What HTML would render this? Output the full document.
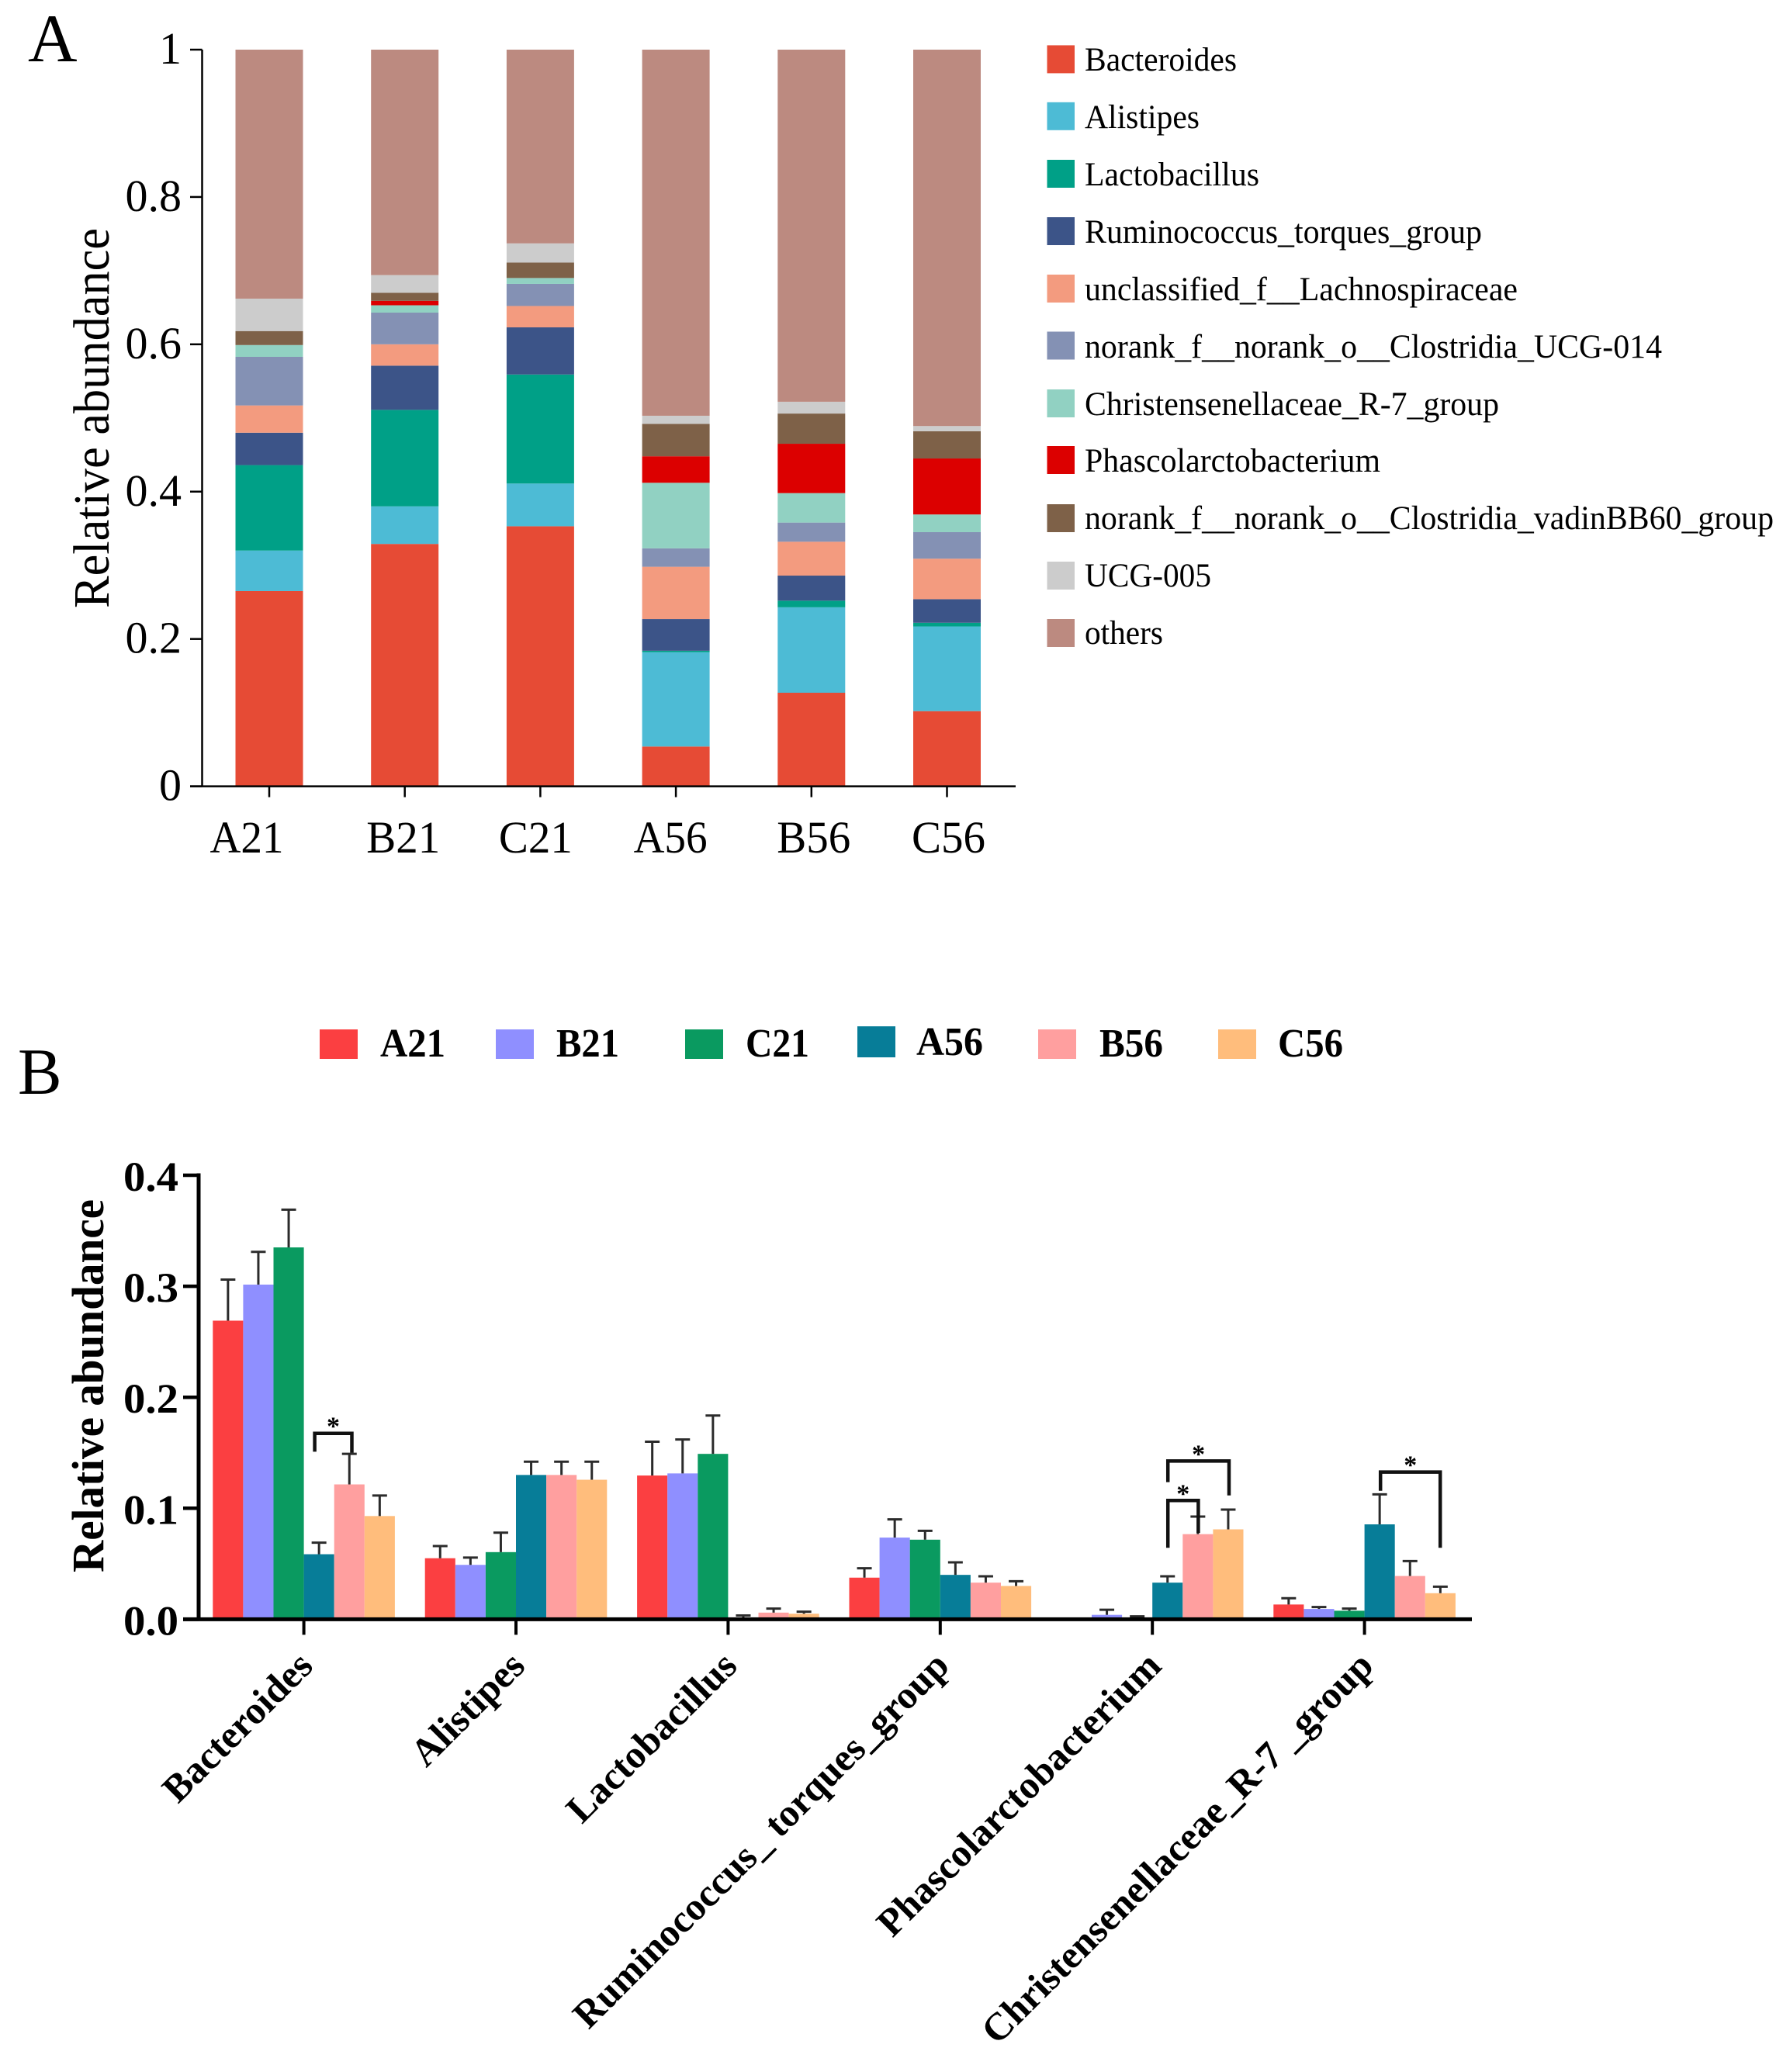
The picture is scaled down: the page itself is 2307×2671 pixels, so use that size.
<!DOCTYPE html>
<html lang="en">
<head>
<meta charset="utf-8">
<title>Relative abundance of gut microbiota genera</title>
<style>
html,body{margin:0;padding:0;background:#fff;}
svg{display:block;font-family:"Liberation Serif","Times New Roman",serif;}
</style>
</head>
<body>
<svg id="figure" xmlns="http://www.w3.org/2000/svg" width="2307" height="2671" viewBox="0 0 2307 2671">
  <rect x="0" y="0" width="2307" height="2671" fill="#ffffff"/>
  <text x="36" y="79" font-size="88" fill="#000">A</text>
  <text x="23" y="1410" font-size="85" fill="#000">B</text>

  <g id="chart-a"></g>
  <text transform="translate(140 539) rotate(-90)" text-anchor="middle" font-size="66" textLength="490" lengthAdjust="spacingAndGlyphs" fill="#000">Relative abundance</text>

  <g font-size="43" fill="#000">
    <g><rect x="1349.5" y="58.4" width="35.5" height="36" fill="#E64B35"/><text x="1398" y="91" textLength="196" lengthAdjust="spacingAndGlyphs">Bacteroides</text></g>
    <g><rect x="1349.5" y="131.8" width="35.5" height="36" fill="#4DBBD5"/><text x="1398" y="165" textLength="148" lengthAdjust="spacingAndGlyphs">Alistipes</text></g>
    <g><rect x="1349.5" y="206" width="35.5" height="36" fill="#00A087"/><text x="1398" y="239" textLength="225" lengthAdjust="spacingAndGlyphs">Lactobacillus</text></g>
    <g><rect x="1349.5" y="280" width="35.5" height="36" fill="#3C5488"/><text x="1398" y="313" textLength="512" lengthAdjust="spacingAndGlyphs">Ruminococcus_torques_group</text></g>
    <g><rect x="1349.5" y="354" width="35.5" height="36" fill="#F39B7F"/><text x="1398" y="387" textLength="558" lengthAdjust="spacingAndGlyphs">unclassified_f__Lachnospiraceae</text></g>
    <g><rect x="1349.5" y="427.5" width="35.5" height="36" fill="#8491B4"/><text x="1398" y="461" textLength="744" lengthAdjust="spacingAndGlyphs">norank_f__norank_o__Clostridia_UCG-014</text></g>
    <g><rect x="1349.5" y="502" width="35.5" height="36" fill="#91D1C2"/><text x="1398" y="535" textLength="534" lengthAdjust="spacingAndGlyphs">Christensenellaceae_R-7_group</text></g>
    <g><rect x="1349.5" y="575" width="35.5" height="36" fill="#DC0000"/><text x="1398" y="608" textLength="381" lengthAdjust="spacingAndGlyphs">Phascolarctobacterium</text></g>
    <g><rect x="1349.5" y="650" width="35.5" height="36" fill="#7E6148"/><text x="1398" y="682" textLength="888" lengthAdjust="spacingAndGlyphs">norank_f__norank_o__Clostridia_vadinBB60_group</text></g>
    <g><rect x="1349.5" y="724" width="35.5" height="36" fill="#CCCCCC"/><text x="1398" y="756" textLength="163" lengthAdjust="spacingAndGlyphs">UCG-005</text></g>
    <g><rect x="1349.5" y="798" width="35.5" height="36" fill="#BC8A80"/><text x="1398" y="830" textLength="101" lengthAdjust="spacingAndGlyphs">others</text></g>
  </g>

  <g font-size="52" font-weight="700" fill="#000">
    <g><rect x="412" y="1327" width="49" height="38" fill="#FB3F41"/><text x="490" y="1362" textLength="84" lengthAdjust="spacingAndGlyphs">A21</text></g>
    <g><rect x="639" y="1327" width="49" height="38" fill="#8F8FFF"/><text x="717" y="1362" textLength="81" lengthAdjust="spacingAndGlyphs">B21</text></g>
    <g><rect x="883" y="1327" width="49" height="38" fill="#0A9A60"/><text x="961" y="1362" textLength="82" lengthAdjust="spacingAndGlyphs">C21</text></g>
    <g><rect x="1105" y="1323" width="49" height="40" fill="#077D98"/><text x="1181" y="1360" textLength="86" lengthAdjust="spacingAndGlyphs">A56</text></g>
    <g><rect x="1338" y="1327" width="49" height="38" fill="#FF9F9F"/><text x="1417" y="1362" textLength="82" lengthAdjust="spacingAndGlyphs">B56</text></g>
    <g><rect x="1570" y="1327" width="49" height="38" fill="#FFBD7C"/><text x="1647" y="1362" textLength="84" lengthAdjust="spacingAndGlyphs">C56</text></g>
  </g>

  <g id="chart-b"></g>
  <text transform="translate(133 1786.5) rotate(-90)" text-anchor="middle" font-size="58" font-weight="700" textLength="481" lengthAdjust="spacingAndGlyphs" fill="#000">Relative abundance</text>
</svg>

<script>
// ---- Panel A data ----
const stackCategories = ["A21", "B21", "C21", "A56", "B56", "C56"];
const bacteroides = [0.265, 0.329, 0.353, 0.054, 0.127, 0.102];
const alistipes = [0.055, 0.051, 0.058, 0.128, 0.116, 0.115];
const lactobacillus = [0.116, 0.131, 0.148, 0.002, 0.009, 0.005];
const ruminococcus = [0.044, 0.060, 0.064, 0.043, 0.034, 0.032];
const lachnospiraceae = [0.037, 0.029, 0.029, 0.071, 0.046, 0.055];
const clostridiaUcg014 = [0.066, 0.043, 0.030, 0.025, 0.026, 0.036];
const christensenellaceae = [0.016, 0.010, 0.008, 0.089, 0.040, 0.024];
const phascolarctobacterium = [0, 0.006, 0, 0.036, 0.067, 0.076];
const clostridiaVadin = [0.019, 0.011, 0.021, 0.044, 0.041, 0.037];
const ucg005 = [0.044, 0.024, 0.026, 0.011, 0.016, 0.007];
const others = [0.338, 0.306, 0.263, 0.497, 0.478, 0.511];
const stackTicks = [0, 0.2, 0.4, 0.6, 0.8, 1];
const stackTickLabels = ["0", "0.2", "0.4", "0.6", "0.8", "1"];

// ---- Panel B data ----
const groupGenera = ["Bacteroides", "Alistipes", "Lactobacillus", "Ruminococcus_ torques_group", "Phascolarctobacterium", "Christensenellaceae_R-7 _group"];
const groupNames = ["A21", "B21", "C21", "A56", "B56", "C56"];
const meanA21 = [0.269, 0.055, 0.1295, 0.0375, 0, 0.0133];
const meanB21 = [0.3015, 0.049, 0.1314, 0.0736, 0.004, 0.0093];
const meanC21 = [0.335, 0.0605, 0.149, 0.0717, 0.0005, 0.0077];
const meanA56 = [0.0586, 0.130, 0.0015, 0.040, 0.033, 0.0855];
const meanB56 = [0.1215, 0.130, 0.006, 0.033, 0.0767, 0.039];
const meanC56 = [0.093, 0.1257, 0.005, 0.030, 0.081, 0.0235];
const errA21 = [0.037, 0.011, 0.0305, 0.0085, 0, 0.0057];
const errB21 = [0.0295, 0.0066, 0.0306, 0.0164, 0.0046, 0.0017];
const errC21 = [0.034, 0.0175, 0.0345, 0.008, 0.0021, 0.0019];
const errA56 = [0.0104, 0.012, 0.0019, 0.0113, 0.0057, 0.027];
const errB56 = [0.0275, 0.012, 0.0036, 0.0057, 0.0158, 0.0134];
const errC56 = [0.0185, 0.0163, 0.0018, 0.0043, 0.0178, 0.0059];
const groupTicks = [0, 0.1, 0.2, 0.3, 0.4];
const groupTickLabels = ["0.0", "0.1", "0.2", "0.3", "0.4"];

// significance brackets: genus index, bar slots spanned, and heights in axis units
const bracketGenus = [0, 4, 4, 5];
const bracketFrom = [2.858, 3.012, 3.012, 3.027];
const bracketTo = [4.083, 5.027, 4.014, 4.996];
const bracketTop = [0.1675, 0.1426, 0.107, 0.1326];
const bracketLeftEnd = [0.151, 0.1235, 0.0644, 0.1158];
const bracketRightEnd = [0.150, 0.1116, 0.0778, 0.0644];

// ---- Styling / layout (not data) ----
const stackColors = ["#E64B35", "#4DBBD5", "#00A087", "#3C5488", "#F39B7F", "#8491B4", "#91D1C2", "#DC0000", "#7E6148", "#CCCCCC", "#BC8A80"];
const stackKeys = ["bacteroides", "alistipes", "lactobacillus", "ruminococcus", "lachnospiraceae", "clostridia-ucg-014", "christensenellaceae", "phascolarctobacterium", "clostridia-vadinbb60", "ucg-005", "others"];
const stackLabelShift = [-29, -2, -6, -7, 3, 2];
const groupColors = ["#FB3F41", "#8F8FFF", "#0A9A60", "#077D98", "#FF9F9F", "#FFBD7C"];

const stackSeries = [bacteroides, alistipes, lactobacillus, ruminococcus, lachnospiraceae, clostridiaUcg014, christensenellaceae, phascolarctobacterium, clostridiaVadin, ucg005, others];
const groupMeans = [meanA21, meanB21, meanC21, meanA56, meanB56, meanC56];
const groupErrors = [errA21, errB21, errC21, errA56, errB56, errC56];

const NS = "http://www.w3.org/2000/svg";
function make(parent, tag, attrs, text) {
  const el = document.createElementNS(NS, tag);
  for (const k in attrs) el.setAttribute(k, attrs[k]);
  if (text !== undefined) el.textContent = text;
  parent.appendChild(el);
  return el;
}

// ---- Panel A axes ----
const yA = v => 1013.6 - v * 949.6;
const xA = i => 347 + i * 174.7;
const barWidthA = 87;
const chartA = document.getElementById("chart-a");

stackCategories.forEach((cat, i) => {
  let acc = 0;
  stackSeries.forEach((series, s) => {
    const top = yA(acc + series[i]);
    const bottom = yA(acc);
    const bar = make(chartA, "rect", { x: xA(i) - barWidthA / 2, y: top, width: barWidthA, height: Math.max(0, bottom - top), fill: stackColors[s] });
    
    
    acc += series[i];
  });
});

const axisAY = make(chartA, "line", { x1: 260.5, y1: yA(1), x2: 260.5, y2: yA(0), stroke: "#000", "stroke-width": 2.5 });


const axisAX = make(chartA, "line", { x1: 245, y1: yA(0), x2: 1309, y2: yA(0), stroke: "#000", "stroke-width": 2.5 });



stackTicks.forEach((t, i) => {
  const tick = make(chartA, "line", { x1: 245, y1: yA(t), x2: 260.5, y2: yA(t), stroke: "#000", "stroke-width": 2.5 });
  
  
  const label = make(chartA, "text", { x: 234, y: yA(t) + 18, "text-anchor": "end", "font-size": 58, fill: "#000" }, stackTickLabels[i]);
  
  
});

stackCategories.forEach((cat, i) => {
  const tick = make(chartA, "line", { x1: xA(i), y1: yA(0), x2: xA(i), y2: yA(0) + 14, stroke: "#000", "stroke-width": 2.5 });
  
  
  const label = make(chartA, "text", { x: xA(i) + stackLabelShift[i], y: 1099, "text-anchor": "middle", "font-size": 58, textLength: 95, lengthAdjust: "spacingAndGlyphs", fill: "#000" }, cat);
  
  
});

// ---- Panel B axes ----
const yB = v => 2087.4 - v * 1431;
const tickB = g => 391.6 + g * 273.4;
const barWidthB = 39.1;
const xB = (g, slot) => tickB(g) + (slot - 2.5) * barWidthB;
const chartB = document.getElementById("chart-b");

groupGenera.forEach((genus, g) => {
  groupNames.forEach((name, s) => {
    const v = groupMeans[s][g];
    const e = groupErrors[s][g];
    const cx = xB(g, s);
    if (v > 0) {
      const bar = make(chartB, "rect", { x: cx - barWidthB / 2, y: yB(v), width: barWidthB, height: yB(0) - yB(v), fill: groupColors[s] });
      
      
    }
    if (e > 0) {
      const stem = make(chartB, "line", { x1: cx, y1: yB(v), x2: cx, y2: yB(v + e), stroke: "#2b2b2b", "stroke-width": 3 });
      
      
      const cap = make(chartB, "line", { x1: cx - 9.5, y1: yB(v + e), x2: cx + 9.5, y2: yB(v + e), stroke: "#2b2b2b", "stroke-width": 3 });
      
      
    }
  });
});

const axisBY = make(chartB, "line", { x1: 256, y1: yB(0.4) - 2.5, x2: 256, y2: yB(0), stroke: "#000", "stroke-width": 5 });


const axisBX = make(chartB, "line", { x1: 236, y1: yB(0), x2: 1897, y2: yB(0), stroke: "#000", "stroke-width": 5 });



groupTicks.forEach((t, i) => {
  const tick = make(chartB, "line", { x1: 236, y1: yB(t), x2: 256, y2: yB(t), stroke: "#000", "stroke-width": 4.5 });
  
  
  const label = make(chartB, "text", { x: 230, y: yB(t) + 20, "text-anchor": "end", "font-size": 54, "font-weight": 700, textLength: 71, lengthAdjust: "spacingAndGlyphs", fill: "#000" }, groupTickLabels[i]);
  
  
});

groupGenera.forEach((genus, g) => {
  const tick = make(chartB, "line", { x1: tickB(g), y1: yB(0), x2: tickB(g), y2: yB(0) + 20, stroke: "#000", "stroke-width": 4 });
  
  
  const ax = tickB(g) + 14;
  const label = make(chartB, "text", { x: ax, y: 2150, transform: "rotate(-45 " + ax + " 2150)", "text-anchor": "end", "font-size": 50, "font-weight": 700, fill: "#000" }, genus);
  
  
});

bracketGenus.forEach((g, i) => {
  const x1 = xB(g, bracketFrom[i]);
  const x2 = xB(g, bracketTo[i]);
  const d = "M" + x1 + " " + yB(bracketLeftEnd[i]) + " V" + yB(bracketTop[i]) + " H" + x2 + " V" + yB(bracketRightEnd[i]);
  const bracket = make(chartB, "path", { d: d, fill: "none", stroke: "#111", "stroke-width": 4.5 });
  
  
  const star = make(chartB, "text", { x: (x1 + x2) / 2, y: yB(bracketTop[i]) + 2, "text-anchor": "middle", "font-size": 34, "font-weight": 700, fill: "#000" }, "*");
  
  
});
</script>
</body>
</html>
